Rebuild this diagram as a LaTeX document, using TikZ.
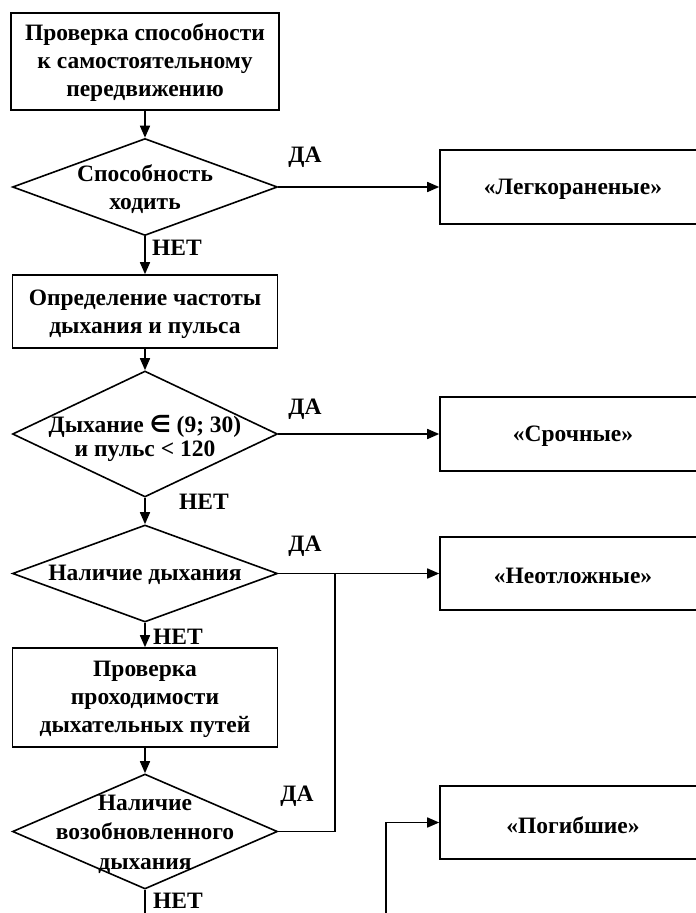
\documentclass[tikz,border=0pt]{standalone}
\usepackage{fontspec}
\setmainfont{Liberation Serif}
\newfontfamily\symf{DejaVu Sans}
\usetikzlibrary{shapes.geometric,arrows.meta}
\begin{document}
\begin{tikzpicture}[x=1pt,y=-1pt,
  line width=1.6pt,
  lbl/.style={font=\fontsize{23.5}{28}\selectfont\bfseries, align=center, inner sep=0pt},
  boxnode/.style={draw, rectangle, inner sep=0pt},
  dia/.style={draw, diamond, inner sep=0pt},
  arr/.style={-{Triangle[length=12pt,width=10pt]}},
  ans/.style={font=\fontsize{23.5}{24}\selectfont\bfseries, inner sep=0pt}]
\useasboundingbox (0,0) rectangle (696,913);
\clip (0,0) rectangle (696,913);
% left column
\node[boxnode, minimum width=268pt, minimum height=97pt] (b1) at (145,61.5) {};
\node[lbl] (t1) at (145,63) {Проверка способности\\к самостоятельному\\передвижению};
\node[dia, minimum width=265pt, minimum height=97pt] (d1) at (145,187) {};
\node[lbl] (td1) at (145,189) {Способность\\ходить};
\node[boxnode, minimum width=265pt, minimum height=73pt] (b2) at (145,311.5) {};
\node[lbl] (t2) at (145,314) {Определение частоты\\дыхания и пульса};
\node[dia, minimum width=265pt, minimum height=126pt] (d2) at (145,434) {};
\node[lbl, font=\fontsize{23.5}{24}\selectfont\bfseries] (td2) at (145,438) {Дыхание {\symf\bfseries ∈} (9; 30)\\и пульс < 120};
\node[dia, minimum width=265pt, minimum height=97pt] (d3) at (145,573.5) {};
\node[lbl] (td3) at (145,575) {Наличие дыхания};
\node[boxnode, minimum width=265pt, minimum height=99pt] (b3) at (145,697.5) {};
\node[lbl] (t3) at (145,699) {Проверка\\проходимости\\дыхательных путей};
\node[dia, minimum width=265pt, minimum height=115pt] (d4) at (145,831.5) {};
\node[lbl, font=\fontsize{23.5}{29.5}\selectfont\bfseries] (td4) at (145,834) {Наличие\\возобновленного\\дыхания};
% right column
\node[boxnode, minimum width=266pt, minimum height=74pt] (r1) at (573,187) {};
\node[lbl] (tr1) at (573,189) {«Легкораненые»};
\node[boxnode, minimum width=266pt, minimum height=74pt] (r2) at (573,434) {};
\node[lbl] (tr2) at (573,436) {«Срочные»};
\node[boxnode, minimum width=266pt, minimum height=73pt] (r3) at (573,573.5) {};
\node[lbl] (tr3) at (573,576) {«Неотложные»};
\node[boxnode, minimum width=266pt, minimum height=73pt] (r4) at (573,822.5) {};
\node[lbl] (tr4) at (573,825) {«Погибшие»};
% vertical flow
\draw[arr] (b1.south) -- (d1.north);
\draw[arr] (d1.south) -- (b2.north);
\draw[arr] (b2.south) -- (d2.north);
\draw[arr] (d2.south) -- (d3.north);
\draw[arr] (d3.south) -- (b3.north);
\draw[arr] (b3.south) -- (d4.north);
\coordinate (bot) at (145,913);
\draw (d4.south) -- (bot);
% yes branches
\draw[arr] (d1.east) -- (r1.west);
\draw[arr] (d2.east) -- (r2.west);
\draw[arr] (d3.east) -- (r3.west);
\coordinate (j) at (335,573.5);
\draw (d4.east) -| (j);
\coordinate (p0) at (386,913);
\draw[arr] (p0) |- (r4.west);
% labels
\node[ans] (a1) at (305,157) {ДА};
\node[ans] (n1) at (177,248) {НЕТ};
\node[ans] (a2) at (305,409) {ДА};
\node[ans] (n2) at (204,502) {НЕТ};
\node[ans] (a3) at (305,546) {ДА};
\node[ans] (n3) at (178,637) {НЕТ};
\node[ans] (a4) at (297,796) {ДА};
\node[ans] (n4) at (178,901) {НЕТ};
\end{tikzpicture}
\end{document}
